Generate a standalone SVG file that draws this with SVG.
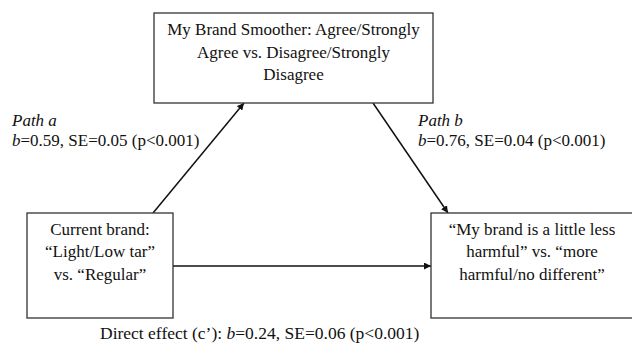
<svg xmlns="http://www.w3.org/2000/svg" width="632" height="353" viewBox="0 0 632 353">
<defs>
<style>
.box{fill:#fff;stroke:#333;stroke-width:1.3}
.t{font-family:"Liberation Serif","Times New Roman",Tinos,serif;font-size:17px;fill:#111}
.c{text-anchor:middle}
.i{font-style:italic}
.big{font-size:17.5px}
.line{stroke:#111;stroke-width:1.5;fill:none}
</style>
<marker id="ah" viewBox="0 0 10 10" refX="10" refY="5" markerWidth="7" markerHeight="7" markerUnits="userSpaceOnUse" orient="auto">
<path d="M0,0 L10,5 L0,10 z" fill="#111"/>
</marker>
</defs>
<rect width="632" height="353" fill="#fff"/>
<g id="connectors">
<line class="line" x1="153" y1="213" x2="244" y2="103" marker-end="url(#ah)"/>
<line class="line" x1="373" y1="103" x2="448" y2="213" marker-end="url(#ah)"/>
<line class="line" x1="173" y1="266" x2="431" y2="266" marker-end="url(#ah)"/>
</g>
<g id="mediator">
<rect class="box" x="154" y="13" width="279" height="90"/>
<text class="t c" x="293.5" y="35">My Brand Smoother: Agree/Strongly</text>
<text class="t c" x="293.5" y="58">Agree vs. Disagree/Strongly</text>
<text class="t c" x="293.5" y="80">Disagree</text>
</g>
<g id="predictor">
<rect class="box" x="27" y="213" width="146" height="105"/>
<text class="t c" x="100" y="235">Current brand:</text>
<text class="t c" x="100" y="257">“Light/Low tar”</text>
<text class="t c" x="100" y="280">vs. “Regular”</text>
</g>
<g id="outcome">
<rect class="box" x="431" y="213" width="202" height="105"/>
<text class="t c" x="532" y="235">“My brand is a little less</text>
<text class="t c" x="532" y="257">harmful” vs. “more</text>
<text class="t c" x="532" y="280">harmful/no different”</text>
</g>
<g id="labels">
<text class="t i" x="12" y="126">Path a</text>
<text class="t" x="12" y="146"><tspan class="i">b</tspan>=0.59, SE=0.05 (p&lt;0.001)</text>
<text class="t i" x="418" y="126">Path b</text>
<text class="t" x="418" y="146"><tspan class="i">b</tspan>=0.76, SE=0.04 (p&lt;0.001)</text>
<text class="t big" x="100" y="339">Direct effect (c’): <tspan class="i">b</tspan>=0.24, SE=0.06 (p&lt;0.001)</text>
</g>
</svg>
